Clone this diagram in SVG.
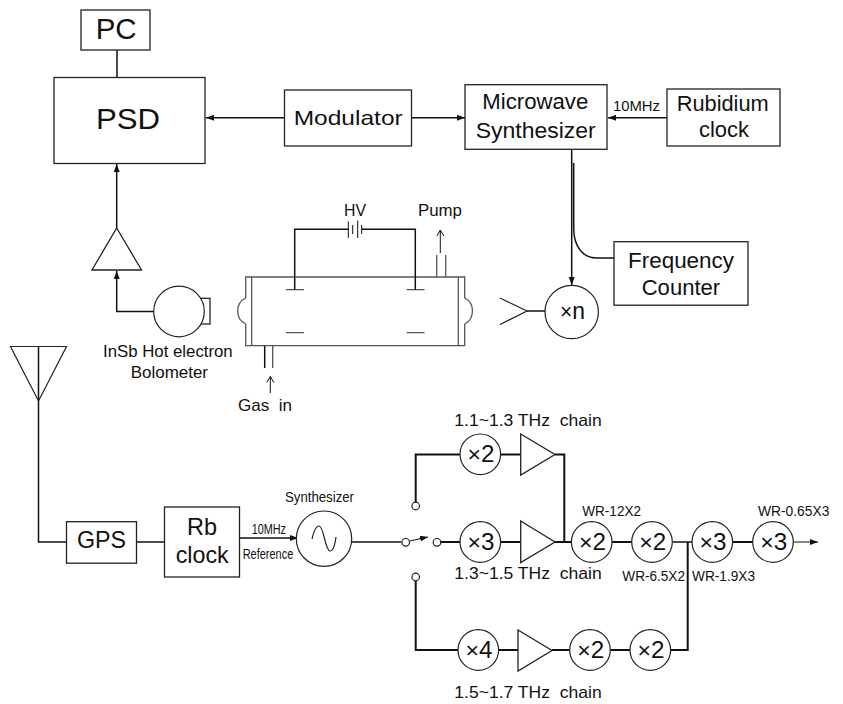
<svg xmlns="http://www.w3.org/2000/svg" width="843" height="704" viewBox="0 0 843 704">
<style>
text{font-family:"Liberation Sans",Arial,sans-serif;fill:#111}
.b{fill:#fff;stroke:#222;stroke-width:1.3}
.s{fill:none;stroke:#222;stroke-width:1.2}
.w{fill:none;stroke:#111;stroke-width:1.5}
.n{fill:none;stroke:#111;stroke-width:1}
.t{fill:none;stroke:#111;stroke-width:2}
.g{fill:none;stroke:#555;stroke-width:1.3}
.c{fill:#fff;stroke:#222;stroke-width:1.2}
.f22{font-size:22px}.f17{font-size:17px}.f14{font-size:14px}.f24{font-size:24px}
.x{font-size:23px}.m{font-size:22px}
</style>
<defs>
<marker id="a" markerUnits="userSpaceOnUse" markerWidth="9" markerHeight="7" refX="8" refY="3" orient="auto"><path d="M0 0L8 3L0 6Z" fill="#111"/></marker>
<marker id="o" markerUnits="userSpaceOnUse" markerWidth="8" markerHeight="10" refX="7" refY="4" orient="auto"><path d="M1 0.5L7 4L1 7.500" fill="none" stroke="#111" stroke-width="1"/></marker>
</defs>
<g id="connectors">
<path class="w" d="M117 50V77"/>
<path class="w" d="M284.500 117.700H206" marker-end="url(#a)"/>
<path class="w" d="M411.500 117.700H465" marker-end="url(#a)"/>
<path class="w" d="M667 117.700H608" marker-end="url(#a)"/>
<path class="w" d="M571.700 149.500V285" marker-end="url(#a)"/>
<path class="w" d="M573.700 163V228C573.700 247 583 258 597 258H614"/>
<path class="w" d="M116.700 228V164" marker-end="url(#a)"/>
<path class="w" d="M154 311.500H116.700V271" marker-end="url(#a)"/>
<path class="w" d="M38.500 346.500V542H66.500M137 542H164.500"/>
<path class="w" d="M240 538H298" marker-end="url(#a)"/>
<path class="w" d="M352 542H401.500"/>
<path class="n" d="M409.500 541L428 537" marker-end="url(#a)"/>
<path class="w" d="M527 311H545"/>
<path class="t" d="M415.700 502V454.500H460M500.500 454.500H521M555 454.500H564.300V542"/>
<path class="t" d="M441 542H460M500.500 542H521M555 542H571M612 542H632M732.500 542H753"/>
<path class="w" d="M672.500 542H692"/>
<path class="n" d="M793.500 542H818" marker-end="url(#a)"/>
<path class="t" d="M415.700 581V650H458M498.500 650H518M552 650H570M610.500 650H630M670.500 650H687.700V542"/>
</g>
<g id="pc"><rect class="b" x="81" y="10" width="69" height="40"/><text x="95.700" y="39.300" font-size="29" textLength="41" lengthAdjust="spacingAndGlyphs">PC</text></g>
<g id="psd"><rect class="b" x="54" y="77.500" width="151" height="86"/><text x="96" y="129.300" font-size="30" textLength="64" lengthAdjust="spacingAndGlyphs">PSD</text></g>
<g id="modulator"><rect class="b" x="284.500" y="90" width="127" height="56"/><text x="293.700" y="124.700" font-size="21" textLength="109" lengthAdjust="spacingAndGlyphs">Modulator</text></g>
<g id="microwave"><rect class="b" x="465" y="84.700" width="142" height="64.600"/><text x="482.300" y="109" class="f22" textLength="106" lengthAdjust="spacingAndGlyphs">Microwave</text><text x="475.700" y="138" class="f22" textLength="120" lengthAdjust="spacingAndGlyphs">Synthesizer</text></g>
<g id="rubidium"><rect class="b" x="667" y="89" width="113" height="57"/><text x="676.700" y="111" class="f22" textLength="92" lengthAdjust="spacingAndGlyphs">Rubidium</text><text x="699" y="136.700" class="f22" textLength="50" lengthAdjust="spacingAndGlyphs">clock</text></g>
<text id="label-10mhz" x="613" y="110.700" class="f14" textLength="47" lengthAdjust="spacingAndGlyphs">10MHz</text>
<g id="counter"><rect class="b" x="614" y="241.700" width="134" height="63.500"/><text x="628" y="268" class="f22" textLength="106" lengthAdjust="spacingAndGlyphs">Frequency</text><text x="641.700" y="295" class="f22" textLength="78.500" lengthAdjust="spacingAndGlyphs">Counter</text></g>
<g id="multn"><circle class="c" cx="571.700" cy="312" r="26.700"/><text x="560" y="319" textLength="25" lengthAdjust="spacingAndGlyphs"><tspan class="m">×</tspan><tspan font-size="24">n</tspan></text></g>
<g id="horn"><path class="s" d="M500 298L527 311L500 324.500"/></g>
<g id="amp1"><path class="b" d="M116.700 228L141.500 270H92Z"/></g>
<g id="bolometer"><rect class="b" x="196.700" y="298.300" width="13.300" height="25.700"/><circle class="c" cx="179" cy="311.500" r="25.300"/>
<text x="103" y="356.700" class="f17" textLength="129.700" lengthAdjust="spacingAndGlyphs">InSb Hot electron</text><text x="130.700" y="378" class="f17" textLength="77.300" lengthAdjust="spacingAndGlyphs">Bolometer</text></g>
<g id="cell">
<path class="g" d="M245.700 298V277H464.700V298M245.700 324V345.700H464.700V324"/>
<path class="g" d="M251.700 277V345.700M458.300 277V345.700"/>
<path class="g" d="M245.700 298C235 303 235 319 245.700 324M464.700 298C475 303 475 319 464.700 324"/>
<path class="g" d="M286 289.700H304M406.700 289.700H424.500M286 332.700H304M406.700 332.700H424.500"/>
<path class="w" d="M294.700 289.700V229.300H348.300M361.700 229.300H415.300V289.700"/>
<path class="n" d="M348.300 221.500V238M352.700 225V234M357.700 220.500V238M361.700 225V234"/>
<path class="g" d="M436.700 255V277M445.700 255V277"/>
<path class="w" d="M264.700 346V368"/><path class="g" d="M272.700 346V368"/>
<path class="n" d="M440.300 253V230" marker-end="url(#o)"/>
<path class="n" d="M270.300 393V376.500" marker-end="url(#o)"/>
<text x="344" y="215.700" class="f17" textLength="22" lengthAdjust="spacingAndGlyphs">HV</text>
<text x="418" y="215.700" class="f17" textLength="44" lengthAdjust="spacingAndGlyphs">Pump</text>
<text x="238" y="410.700" class="f17" textLength="54" lengthAdjust="spacingAndGlyphs" xml:space="preserve">Gas  in</text>
</g>
<g id="antenna"><path class="s" d="M10.500 346.500H66.500L38.500 401Z"/></g>
<g id="gps"><rect class="b" x="66.500" y="521.700" width="70" height="41.500"/><text x="77" y="548" class="f24" textLength="49" lengthAdjust="spacingAndGlyphs">GPS</text></g>
<g id="rb"><rect class="b" x="164.500" y="507" width="75" height="70"/><text x="187" y="535" class="f24" textLength="30" lengthAdjust="spacingAndGlyphs">Rb</text><text x="175.700" y="562.700" class="f24" textLength="53" lengthAdjust="spacingAndGlyphs">clock</text></g>
<text id="ref-a" x="251.700" y="534" class="f14" textLength="34.300" lengthAdjust="spacingAndGlyphs">10MHz</text>
<text id="ref-b" x="242.700" y="559" class="f14" textLength="50.600" lengthAdjust="spacingAndGlyphs">Reference</text>
<g id="synth"><circle class="c" cx="324" cy="538.700" r="27.700"/><path class="s" d="M312 539C314 530 316 526 319 526C324 526 325 551 330 551C333 551 335 545 336 537"/><text x="285" y="502" class="f14" textLength="69" lengthAdjust="spacingAndGlyphs">Synthesizer</text></g>
<g id="switch"><circle class="c" cx="405.700" cy="542.300" r="3.800"/><circle class="c" cx="437" cy="542.300" r="3.800"/><circle class="c" cx="415.700" cy="506" r="3.800"/><circle class="c" cx="415.700" cy="577" r="3.800"/></g>
<g id="chain1"><circle class="c" cx="480.300" cy="454.300" r="20.300"/><text x="467.500" y="461.700" textLength="27" lengthAdjust="spacingAndGlyphs"><tspan class="m">×</tspan><tspan class="x">2</tspan></text><path class="b" d="M520.700 434L555 454.500L520.700 475Z"/><text x="454.300" y="425.700" class="f17" textLength="147.400" lengthAdjust="spacingAndGlyphs" xml:space="preserve">1.1~1.3 THz  chain</text></g>
<g id="chain2"><circle class="c" cx="480.300" cy="542" r="20.300"/><text x="467.500" y="549.500" textLength="27" lengthAdjust="spacingAndGlyphs"><tspan class="m">×</tspan><tspan class="x">3</tspan></text><path class="b" d="M520.700 521L555 542L520.700 562.500Z"/><text x="454.300" y="579" class="f17" textLength="147.400" lengthAdjust="spacingAndGlyphs" xml:space="preserve">1.3~1.5 THz  chain</text></g>
<g id="chain3"><circle class="c" cx="478.300" cy="650" r="20.300"/><text x="465.500" y="657.500" textLength="27" lengthAdjust="spacingAndGlyphs"><tspan class="m">×</tspan><tspan class="x">4</tspan></text><path class="b" d="M518 630L552 650.500L518 671Z"/>
<circle class="c" cx="590" cy="650" r="20.300"/><text x="577.200" y="657.500" textLength="27" lengthAdjust="spacingAndGlyphs"><tspan class="m">×</tspan><tspan class="x">2</tspan></text>
<circle class="c" cx="650.300" cy="650" r="20.300"/><text x="637.500" y="657.500" textLength="27" lengthAdjust="spacingAndGlyphs"><tspan class="m">×</tspan><tspan class="x">2</tspan></text>
<text x="454.300" y="697.700" class="f17" textLength="147.400" lengthAdjust="spacingAndGlyphs" xml:space="preserve">1.5~1.7 THz  chain</text></g>
<g id="wr12"><circle class="c" cx="591.700" cy="542" r="20.300"/><text x="578.900" y="549.500" textLength="27" lengthAdjust="spacingAndGlyphs"><tspan class="m">×</tspan><tspan class="x">2</tspan></text><text x="582.300" y="515.700" class="f14" textLength="58.700" lengthAdjust="spacingAndGlyphs">WR-12X2</text></g>
<g id="wr65"><circle class="c" cx="652" cy="542" r="20.300"/><text x="639.200" y="549.500" textLength="27" lengthAdjust="spacingAndGlyphs"><tspan class="m">×</tspan><tspan class="x">2</tspan></text><text x="622.300" y="581" class="f14" textLength="62.700" lengthAdjust="spacingAndGlyphs">WR-6.5X2</text></g>
<g id="wr19"><circle class="c" cx="712.300" cy="542" r="20.300"/><text x="699.500" y="549.500" textLength="27" lengthAdjust="spacingAndGlyphs"><tspan class="m">×</tspan><tspan class="x">3</tspan></text><text x="692" y="581" class="f14" textLength="63" lengthAdjust="spacingAndGlyphs">WR-1.9X3</text></g>
<g id="wr065"><circle class="c" cx="773" cy="542" r="20.300"/><text x="760.200" y="549.500" textLength="27" lengthAdjust="spacingAndGlyphs"><tspan class="m">×</tspan><tspan class="x">3</tspan></text><text x="758" y="515.700" class="f14" textLength="71.300" lengthAdjust="spacingAndGlyphs">WR-0.65X3</text></g>
</svg>
